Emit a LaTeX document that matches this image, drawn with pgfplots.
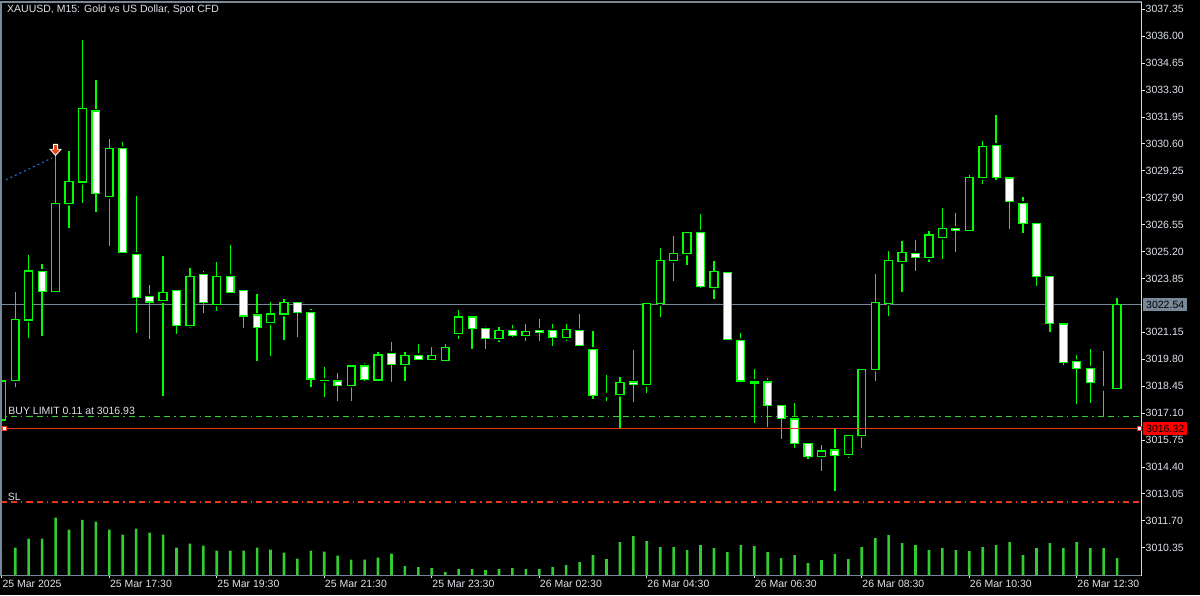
\documentclass[border=0pt]{standalone}
\usepackage{pgfplots}
\pgfplotsset{compat=1.18}
\usepackage{pgfplotstable}
\usepackage{fontspec}
\setmainfont{Liberation Sans}
\definecolor{candle}{RGB}{0,255,0}
\definecolor{volc}{RGB}{50,205,50}
\definecolor{txt}{RGB}{222,226,234}
\definecolor{framec}{RGB}{119,136,153}
\definecolor{redl}{RGB}{235,55,30}
\definecolor{bidc}{RGB}{119,136,153}
\definecolor{dealc}{RGB}{30,110,210}
\definecolor{arrowc}{RGB}{232,70,30}
\newcommand\tf{\fontsize{10.5}{12}\selectfont}

% index open high low close volume (15-minute bars)
\pgfplotstableread{
i o h l c v
0 3016.75 3018.71 3016.75 3018.71 0
1 3018.72 3023.16 3018.42 3021.80 28
2 3021.77 3025.03 3020.88 3024.23 37
3 3024.21 3024.58 3020.98 3023.19 37
4 3023.19 3030.45 3023.17 3027.62 58
5 3027.62 3030.24 3026.40 3028.71 46
6 3028.68 3035.81 3027.65 3032.39 55.7
7 3032.24 3033.81 3027.20 3028.10 54
8 3027.95 3030.83 3025.50 3030.38 46
9 3030.38 3030.70 3025.14 3025.14 41
10 3025.06 3027.99 3021.10 3022.91 47
11 3022.96 3023.52 3020.80 3022.67 43
12 3022.74 3024.98 3017.96 3023.16 41
13 3023.26 3023.26 3021.05 3021.50 28
14 3021.50 3024.36 3021.38 3023.94 32
15 3024.06 3024.23 3022.14 3022.66 30
16 3022.56 3024.66 3022.24 3023.96 25
17 3023.96 3025.53 3023.11 3023.16 25
18 3023.26 3023.31 3021.38 3021.96 25
19 3022.01 3023.07 3019.73 3021.38 28
20 3021.65 3022.67 3019.98 3022.06 26
21 3022.06 3022.84 3020.78 3022.64 23
22 3022.64 3022.72 3020.93 3022.16 17
23 3022.16 3022.31 3018.39 3018.81 25
24 3018.74 3019.40 3017.92 3018.72 24
25 3018.70 3019.11 3017.72 3018.49 20
26 3018.49 3019.51 3017.72 3019.46 16
27 3019.46 3019.60 3018.70 3018.78 16
28 3018.76 3020.15 3018.71 3020.01 18
29 3020.10 3020.67 3018.68 3019.55 22
30 3019.55 3020.16 3018.73 3019.98 9.3
31 3020.00 3020.57 3019.80 3019.80 8.3
32 3019.80 3020.42 3019.76 3020.00 7.3
33 3019.73 3020.57 3019.73 3020.40 3.3
34 3021.10 3022.27 3020.83 3021.91 6.3
35 3021.91 3021.92 3020.33 3021.35 6.3
36 3021.33 3021.45 3020.33 3020.83 5.3
37 3020.85 3021.40 3020.68 3021.23 6.3
38 3021.23 3021.52 3020.93 3021.00 7.3
39 3021.00 3021.57 3020.73 3021.20 6.3
40 3021.25 3021.82 3020.73 3021.15 6.3
41 3021.23 3021.57 3020.48 3020.90 8.3
42 3020.90 3021.57 3020.73 3021.30 10.3
43 3021.23 3022.07 3020.50 3020.50 13.3
44 3020.30 3021.20 3017.82 3017.99 20.3
45 3018.01 3019.00 3017.72 3018.01 16.3
46 3018.04 3018.90 3016.32 3018.63 33.3
47 3018.65 3020.27 3017.64 3018.54 39.3
48 3018.54 3022.61 3018.09 3022.61 34.3
49 3022.59 3025.37 3021.94 3024.74 28.3
50 3024.74 3025.98 3023.74 3025.11 28.3
51 3025.11 3026.20 3024.54 3026.17 25.3
52 3026.17 3027.09 3023.39 3023.44 30.3
53 3023.41 3024.73 3022.84 3024.21 27.3
54 3024.16 3024.16 3020.80 3020.80 23.3
55 3020.75 3021.12 3018.70 3018.70 30.3
56 3018.68 3019.31 3016.62 3018.60 29.3
57 3018.66 3018.85 3016.42 3017.47 23.3
58 3017.49 3017.49 3015.82 3016.82 17.3
59 3016.80 3017.61 3015.37 3015.57 20.3
60 3015.59 3015.59 3014.78 3014.91 12.3
61 3014.91 3015.49 3014.21 3015.19 15.3
62 3015.24 3016.37 3013.21 3014.98 21.3
63 3015.01 3015.99 3014.86 3015.99 16.3
64 3015.99 3019.30 3015.37 3019.30 28.3
65 3019.30 3024.08 3018.73 3022.64 37.3
66 3022.61 3025.23 3021.99 3024.76 40.3
67 3024.69 3025.73 3023.19 3025.16 32.3
68 3025.11 3025.78 3024.24 3024.91 30.3
69 3024.91 3026.23 3024.68 3026.03 25.3
70 3025.92 3027.39 3024.84 3026.37 27.3
71 3026.37 3027.12 3025.19 3026.27 25.3
72 3026.25 3029.03 3026.20 3028.93 24.3
73 3028.91 3030.75 3028.60 3030.48 28.3
74 3030.53 3032.05 3028.79 3028.91 30.3
75 3028.88 3028.88 3026.33 3027.70 33.3
76 3027.62 3027.94 3026.15 3026.60 20.3
77 3026.62 3026.62 3023.47 3023.94 27.3
78 3023.94 3024.03 3021.18 3021.58 32.3
79 3021.57 3021.67 3019.51 3019.63 27.3
80 3019.68 3020.01 3017.57 3019.33 33.3
81 3019.35 3020.30 3017.62 3018.63 27.3
82 3018.34 3020.21 3016.92 3018.34 27.3
83 3018.32 3022.86 3018.32 3022.54 17.3
}\bars

\pgfdeclareplotmark{sellarrow}{%
  \pgfpathmoveto{\pgfqpoint{-0.38\pgfplotmarksize}{\pgfplotmarksize}}%
  \pgfpathlineto{\pgfqpoint{0.38\pgfplotmarksize}{\pgfplotmarksize}}%
  \pgfpathlineto{\pgfqpoint{0.38\pgfplotmarksize}{0.1\pgfplotmarksize}}%
  \pgfpathlineto{\pgfqpoint{\pgfplotmarksize}{0.1\pgfplotmarksize}}%
  \pgfpathlineto{\pgfqpoint{0pt}{-\pgfplotmarksize}}%
  \pgfpathlineto{\pgfqpoint{-\pgfplotmarksize}{0.1\pgfplotmarksize}}%
  \pgfpathlineto{\pgfqpoint{-0.38\pgfplotmarksize}{0.1\pgfplotmarksize}}%
  \pgfpathclose
  \pgfusepathqfillstroke
}

\pgfplotsset{
  base/.style={scale only axis, width=1140.5pt, height=573.5pt,
    at={(1pt,19.5pt)}, anchor=south west, xmin=-0.06, xmax=84.82},
  price/.style={base, ymin=3008.956, ymax=3037.716},
}

\begin{document}
\begin{tikzpicture}[x=1pt,y=1pt]
\fill[black] (0,0) rectangle (1200,595);
\useasboundingbox (0,0) rectangle (1200,595);

% volumes
\begin{axis}[base, ymin=0, ymax=573.5, hide axis, ybar, bar width=2.6pt, bar shift=0pt]
\addplot[fill=volc, draw=none] table[x=i, y=v]{\bars};
\end{axis}

% main axis: ticks, level lines, wicks
\begin{axis}[price,
  axis line style={draw=none},
  tick align=outside, major tick length=3pt,
  tick style={color=txt, line width=0.8pt},
  xtick pos=left, ytick pos=right, yticklabel pos=right,
  ytick={3010.35,3011.70,3013.05,3014.40,3015.75,3017.10,3018.45,3019.80,3021.15,3023.85,3025.20,3026.55,3027.90,3029.25,3030.60,3031.95,3033.30,3034.65,3036.00,3037.35},
  yticklabels={3010.35,3011.70,3013.05,3014.40,3015.75,3017.10,3018.45,3019.80,3021.15,3023.85,3025.20,3026.55,3027.90,3029.25,3030.60,3031.95,3033.30,3034.65,3036.00,3037.35},
  xtick={0,8,16,24,32,40,48,56,64,72,80},
  xticklabels={25 Mar 2025,25 Mar 17:30,25 Mar 19:30,25 Mar 21:30,25 Mar 23:30,26 Mar 02:30,26 Mar 04:30,26 Mar 06:30,26 Mar 08:30,26 Mar 10:30,26 Mar 12:30},
  yticklabel style={anchor=west, inner sep=0pt, text=txt, font=\tf, xshift=1pt},
  xticklabel style={anchor=north west, inner sep=0pt, text=txt, font=\tf, xshift=0.5pt, yshift=-1pt},
]
\addplot[bidc, line width=1pt] coordinates {(-0.06,3022.54) (84.82,3022.54)};
\addplot[volc, line width=1.2pt, dash pattern=on 6pt off 4pt on 6pt off 4pt on 1.5pt off 4pt] coordinates {(-0.06,3016.93) (84.82,3016.93)};
\addplot[redl, line width=1.2pt, dash pattern=on 6pt off 4pt on 6pt off 4pt on 1.5pt off 4pt] coordinates {(-0.06,3012.64) (84.82,3012.64)};
\addplot[dealc, line width=1.2pt, dash pattern=on 2pt off 3pt] coordinates {(0.3,3028.80) (3.75,3029.90)};
\addplot[only marks, mark=none, error bars/.cd, y dir=both, y explicit, error mark=none,
  error bar style={draw=candle, line width=1.3pt}]
  table[x=i, y=o, y error plus expr=\thisrow{h}-\thisrow{o}, y error minus expr=\thisrow{o}-\thisrow{l}]{\bars};
\end{axis}

% candle bodies (stacked: offset base, bull body, bear body); prices shifted by 3000
\begin{axis}[base, ymin=8.956, ymax=37.716, hide axis, ybar stacked, bar width=0.58]
\addplot[draw=none, fill=none] table[x=i, y expr={min(\thisrow{o},\thisrow{c})-3000}]{\bars};
\addplot[draw=candle, fill=black, line width=1.4pt] table[x=i, y expr={max(\thisrow{c}-\thisrow{o},0)}]{\bars};
\addplot[draw=candle, fill=white, line width=1.4pt] table[x=i, y expr={max(\thisrow{o}-\thisrow{c},0)}]{\bars};
\end{axis}

% overlay
\begin{axis}[price, hide axis, clip=false]
\addplot[redl, line width=1pt] coordinates {(-0.06,3016.32) (84.82,3016.32)};
\addplot[only marks, mark=square*, mark size=2pt, mark options={fill=white, draw=redl, line width=1pt}] coordinates {(0.2,3016.32) (84.65,3016.32)};
\addplot[only marks, mark=sellarrow, mark size=5.5pt, mark options={fill=arrowc, draw=white, line width=0.8pt}] coordinates {(4,3030.30)};
\node[anchor=base west, inner sep=0pt, text=txt, font=\tf] at (axis cs:0.48,3016.93) [yshift=1.5pt] {BUY LIMIT 0.11 at 3016.93};
\node[anchor=base west, inner sep=0pt, text=txt, font=\tf] at (axis cs:0.44,3012.64) [yshift=1.5pt] {SL};
\node[anchor=west, inner sep=0pt, text=txt, font=\tf] at (rel axis cs:0,1) [xshift=6pt, yshift=-8pt] {XAUUSD, M15:\hspace{4pt}Gold vs US Dollar, Spot CFD};
\node[anchor=west, fill=bidc, text=black, font=\tf, inner xsep=3pt, inner ysep=0pt, minimum height=13pt] at (axis cs:84.82,3022.54) [xshift=1.5pt] {3022.54};
\node[anchor=west, fill=red, text=black, font=\tf, inner xsep=3pt, inner ysep=0pt, minimum height=13pt] at (axis cs:84.82,3016.32) [xshift=1.5pt] {3016.32};
\draw[framec, line width=2pt] (rel axis cs:0,0) -- (rel axis cs:0,1) -- (rel axis cs:1,1);
\draw[framec, line width=1pt] (rel axis cs:0,0) -- (rel axis cs:1,0);
\draw[white!85!black, line width=1pt] (rel axis cs:1,0) -- (rel axis cs:1,1);
\end{axis}
\end{tikzpicture}
\end{document}
